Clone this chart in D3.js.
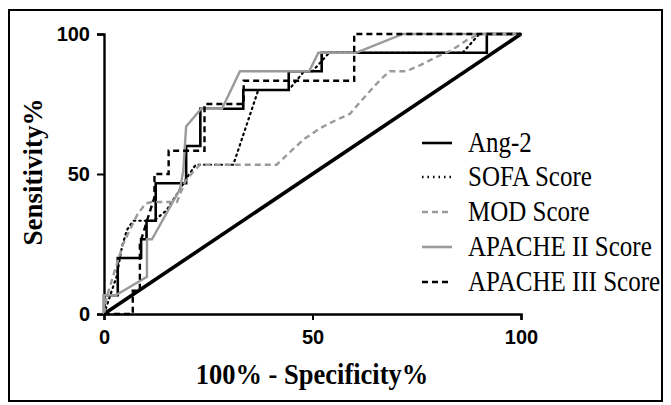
<!DOCTYPE html>
<html>
<head>
<meta charset="utf-8">
<script src="https://cdn.jsdelivr.net/npm/d3@7"></script>
<style>
  body { margin: 0; background: #fff; }
  svg { display: block; }
</style>
</head>
<body>
<div id="chart"></div>
<script>
// ROC points [100% - specificity, sensitivity]
var ang2 = [[0,0],[0,6.7],[3.3,6.7],[3.3,20],[8.9,20],[8.9,26.7],[10.2,26.7],[10.2,33.3],[12.4,33.3],[12.4,46.7],[19.7,46.7],[19.7,60],[23.1,60],[23.1,73.3],[33.4,73.3],[33.4,80],[44.3,80],[44.3,86.7],[52.2,86.7],[52.2,93.3],[91.8,93.3],[91.8,100],[100,100]];
var sofa = [[0,0],[1.5,6.7],[3,13.3],[4.3,24],[5.5,30],[7,33.3],[12,33.3],[15,37],[18,44],[20,49],[22,53.3],[31,53.3],[37,80],[44.3,80],[48,86.7],[50,86.7],[54,93.3],[86,93.3],[90,100],[100,100]];
var mod = [[0,0],[0.6,5.6],[2,12.7],[4.5,24.6],[6,29.5],[8,35.5],[10,39.5],[11.5,40],[17.5,40],[19.5,47.5],[21.5,51],[23,53.3],[41.4,53.3],[44,57],[48,62.5],[52,66.5],[56,69.5],[59,71.5],[61,75],[64,80],[66.5,84],[68.5,86.7],[72.5,86.7],[76,89],[80,92],[83.5,94.3],[87,97.8],[90,100],[100,100]];
var apache2 = [[0,0],[0,6.7],[2.8,6.7],[10.3,13.3],[10.3,26.7],[11.5,26.7],[18.2,44.5],[19,51],[19.7,67],[23.3,73.3],[28.3,73.3],[32.6,86.7],[49.2,86.7],[51.4,93.3],[60.4,93.3],[71.7,100],[100,100]];
var apache3 = [[0,0],[6.9,0],[6.9,8.3],[8.6,8.3],[8.6,25],[10.3,33.3],[12.1,41.7],[12.1,50],[15.5,50],[15.5,58.3],[24.1,58.3],[24.1,75],[33.5,75],[33.5,83.3],[60,83.3],[60,100],[100,100]];
var reference = [[0,0],[100,100]];

var seriesNames = ["Ang-2", "SOFA Score", "MOD Score", "APACHE II Score", "APACHE III Score"];
var seriesData = [ang2, sofa, mod, apache2, apache3];
var seriesColor = ["#000", "#000", "#9a9a9a", "#9a9a9a", "#000"];
var seriesDash = [null, "1.5,4", "6,4", null, "6,4"];
var seriesWidth = [2.6, 2.2, 2.4, 2.4, 2.4];

var xTicks = [0, 50, 100];
var yTicks = [0, 50, 100];

var W = 671, H = 405;
var serif = "'Liberation Serif', 'Times New Roman', serif";
var svg = d3.select("#chart").append("svg")
    .attr("width", W)
    .attr("height", H);

svg.append("rect")
    .attr("x", 9).attr("y", 10)
    .attr("width", 653).attr("height", 391)
    .attr("fill", "none").attr("stroke", "#000").attr("stroke-width", 2);

var x = d3.scaleLinear().domain([0, 100]).range([104, 521]);
var y = d3.scaleLinear().domain([0, 100]).range([314, 34]);

var line = d3.line()
    .x(function (d) { return x(d[0]); })
    .y(function (d) { return y(d[1]); });

// axes
var xAxis = svg.append("g")
    .attr("transform", "translate(0," + y(0) + ")")
    .call(d3.axisBottom(x).tickValues(xTicks).tickSize(6).tickPadding(10));
var yAxis = svg.append("g")
    .attr("transform", "translate(" + x(0) + ",0)")
    .call(d3.axisLeft(y).tickValues(yTicks).tickSize(7).tickPadding(7));

[xAxis, yAxis].forEach(function (a) {
    a.select(".domain").attr("stroke-width", 2.4);
    a.selectAll(".tick line").attr("stroke-width", 2);
    a.selectAll("text")
        .style("font-family", "'Liberation Sans', Arial, sans-serif")
        .style("font-weight", "bold")
        .style("font-size", "20px")
        .attr("fill", "#000");
});

// chance line
svg.append("path")
    .datum(reference)
    .attr("d", line)
    .attr("fill", "none")
    .attr("stroke", "#000")
    .attr("stroke-width", 3.6);

// curves
seriesData.forEach(function (data, i) {
    svg.append("path")
        .datum(data)
        .attr("d", line)
        .attr("fill", "none")
        .attr("stroke", seriesColor[i])
        .attr("stroke-width", seriesWidth[i])
        .attr("stroke-dasharray", seriesDash[i])
        .attr("stroke-linecap", seriesDash[i] === "1.5,4" ? "round" : "butt");
});

// legend
var legend = svg.append("g");
var legY = [143, 177, 212, 247, 282];
seriesNames.forEach(function (name, i) {
    legend.append("line")
        .attr("x1", 422).attr("x2", 452)
        .attr("y1", legY[i]).attr("y2", legY[i])
        .attr("stroke", seriesColor[i])
        .attr("stroke-width", 2.6)
        .attr("stroke-dasharray", seriesDash[i]);
    legend.append("text")
        .attr("transform", "translate(468," + (legY[i] + 9) + ") scale(1,1.15)")
        .style("font-family", serif)
        .style("font-size", "25px")
        .text(name);
});

// axis titles
svg.append("text")
    .attr("transform", "translate(312,384) scale(1,1.12)")
    .attr("text-anchor", "middle")
    .style("font-family", serif)
    .style("font-weight", "bold")
    .style("font-size", "26.5px")
    .text("100% - Specificity%");

svg.append("text")
    .attr("transform", "translate(42,172) rotate(-90) scale(1.08,1.1)")
    .attr("text-anchor", "middle")
    .style("font-family", serif)
    .style("font-weight", "bold")
    .style("font-size", "25px")
    .text("Sensitivity%");
</script>
</body>
</html>
